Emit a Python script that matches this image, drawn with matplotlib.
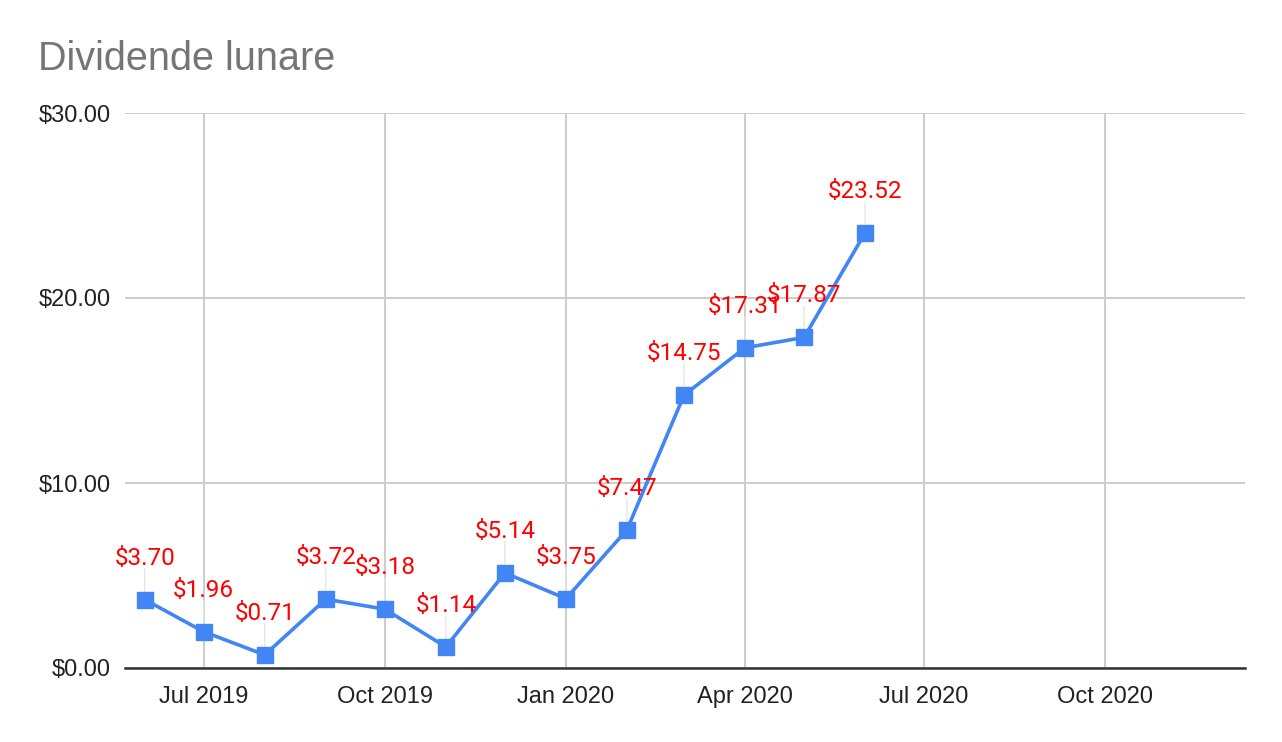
import matplotlib
matplotlib.use("Agg")
import matplotlib.pyplot as plt
import matplotlib.dates as mdates
import datetime as dt

plt.rcParams['font.family'] = ['Roboto', 'DejaVu Sans']

months = ["2019-06-01", "2019-07-01", "2019-08-01", "2019-09-01", "2019-10-01",
          "2019-11-01", "2019-12-01", "2020-01-01", "2020-02-01", "2020-03-01",
          "2020-04-01", "2020-05-01", "2020-06-01"]
values = [3.70, 1.96, 0.71, 3.72, 3.18, 1.14, 5.14, 3.75, 7.47, 14.75, 17.31, 17.87, 23.52]
x_ticks = ["2019-07-01", "2019-10-01", "2020-01-01", "2020-04-01", "2020-07-01", "2020-10-01"]
x_tick_labels = ["Jul 2019", "Oct 2019", "Jan 2020", "Apr 2020", "Jul 2020", "Oct 2020"]
y_ticks = [0, 10, 20, 30]
y_tick_labels = ["$0.00", "$10.00", "$20.00", "$30.00"]
title = "Dividende lunare"

dates = [dt.datetime.strptime(m, "%Y-%m-%d") for m in months]
tick_dates = [dt.datetime.strptime(m, "%Y-%m-%d") for m in x_ticks]

W, H = 1282, 742
fig = plt.figure(figsize=(W / 100, H / 100), dpi=100)
ax = fig.add_axes([125 / W, (H - 668) / H, (1245 - 125) / W, (668 - 113) / H])

blue = "#4285F4"
ax.plot(dates, values, color=blue, lw=2.6, marker="s", markersize=12,
        clip_on=False, zorder=4)

for d, v in zip(dates, values):
    ax.annotate("", xy=(d, v), xytext=(0, 31 * 0.72), textcoords="offset points",
                arrowprops=dict(arrowstyle="-", color="#e6e6e6", lw=1.0,
                                shrinkA=0, shrinkB=8 * 0.72), zorder=2)
    ax.annotate(f"${v:.2f}", xy=(d, v), xytext=(0, 35 * 0.72),
                textcoords="offset points", ha="center", va="baseline",
                color="#ff0000", fontsize=17.5, zorder=5)

ax.set_xlim(dt.datetime(2019, 5, 22), dt.datetime(2020, 12, 11))
ax.set_ylim(0, 30)
ax.set_xticks(tick_dates)
ax.set_xticklabels(x_tick_labels)
ax.set_yticks(y_ticks)
ax.set_yticklabels(y_tick_labels)
tick_font = ["Liberation Sans", "DejaVu Sans"]
for lab in ax.get_xticklabels() + ax.get_yticklabels():
    lab.set_family(tick_font)
ax.tick_params(axis="both", length=0, labelsize=17, colors="#222222")
ax.tick_params(axis="x", pad=13)
ax.tick_params(axis="y", pad=10)

ax.grid(True, color="#cccccc", lw=1.4)
ax.set_axisbelow(True)
for s in ["top", "right", "left"]:
    ax.spines[s].set_visible(False)
ax.spines["bottom"].set_color("#333333")
ax.spines["bottom"].set_linewidth(1.8)
ax.spines["bottom"].set_zorder(3)

fig.text(38 / W, 1 - 70 / H, title, fontsize=28.5, color="#757575",
         ha="left", va="baseline", family=["Liberation Sans", "DejaVu Sans"])

fig.savefig("out.png", dpi=100, facecolor="white")
